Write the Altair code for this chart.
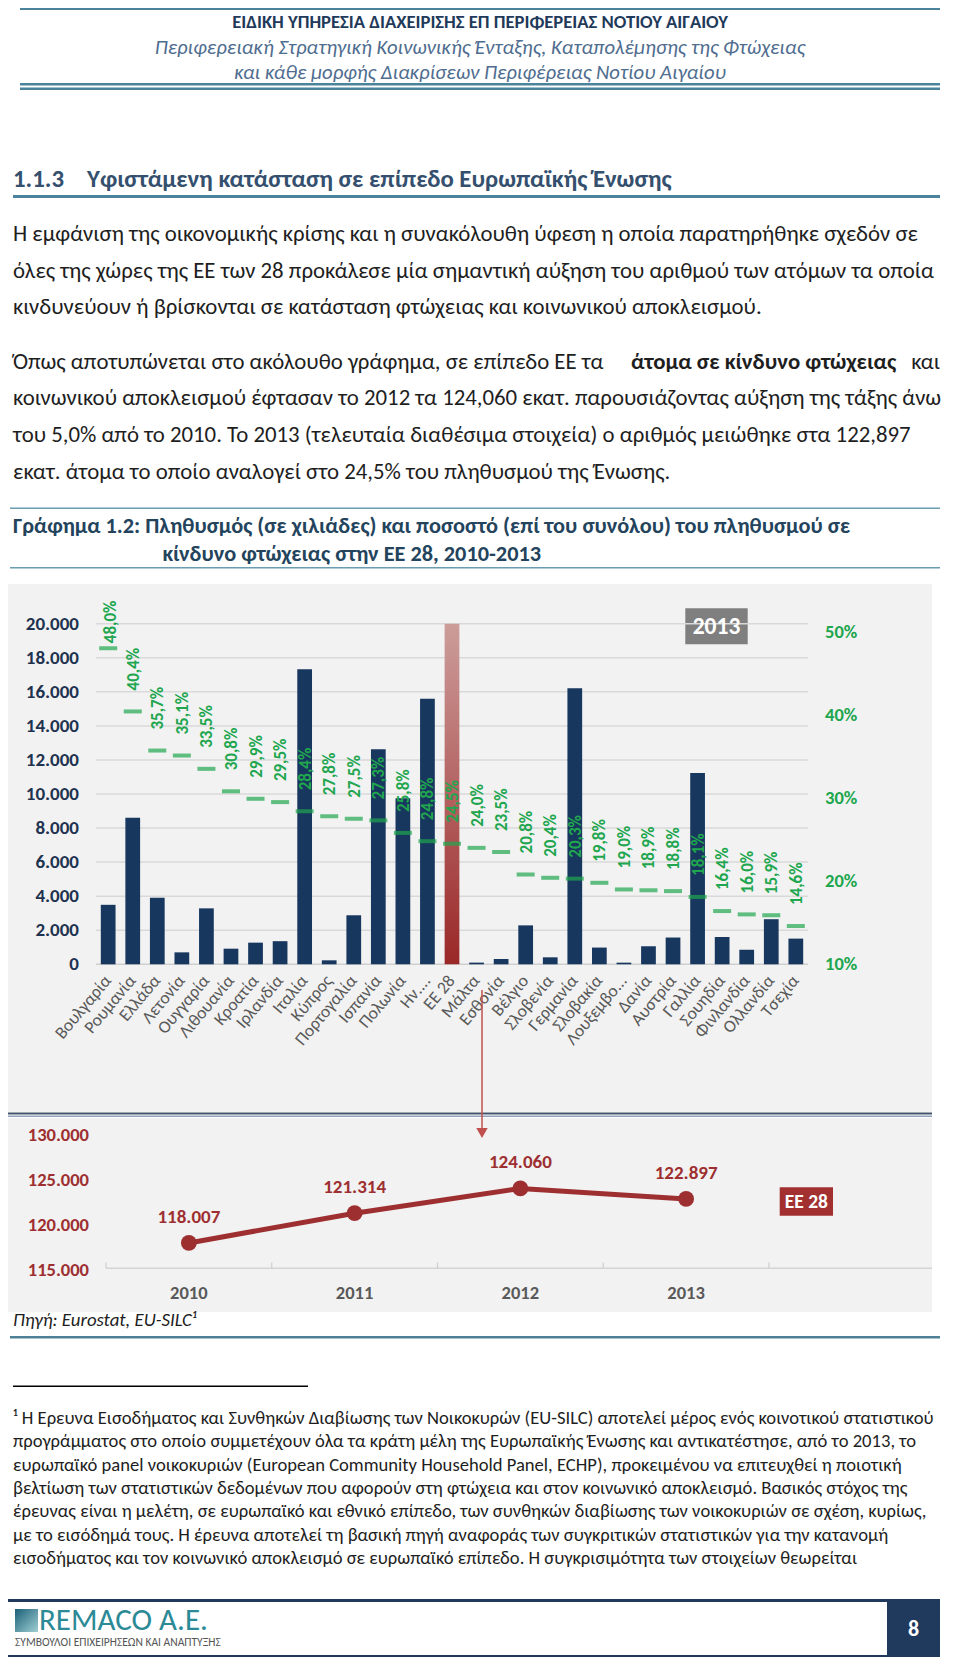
import altair as alt
import pandas as pd

# ---------------- data ----------------
countries = ["Βουλγαρία", "Ρουμανία", "Ελλάδα", "Λετονία", "Ουγγαρία", "Λιθουανία",
             "Κροατία", "Ιρλανδία", "Ιταλία", "Κύπρος", "Πορτογαλία", "Ισπανία",
             "Πολωνία", "Ην....", "ΕΕ 28", "Μάλτα", "Εσθονία", "Βέλγιο", "Σλοβενία",
             "Γερμανία", "Σλοβακία", "Λουξεμβο...", "Δανία", "Αυστρία", "Γαλλία",
             "Σουηδία", "Φινλανδία", "Ολλανδία", "Τσεχία"]
people_2013 = [3493, 8601, 3904, 702, 3285, 917, 1271, 1358, 17326, 234, 2879, 12630,
               9748, 15586, 122897, 99, 313, 2286, 410, 16212, 983, 96, 1059, 1572,
               11229, 1602, 854, 2648, 1508]
pct_2013 = [48.0, 40.4, 35.7, 35.1, 33.5, 30.8, 29.9, 29.5, 28.4, 27.8, 27.5, 27.3,
            25.8, 24.8, 24.5, 24.0, 23.5, 20.8, 20.4, 20.3, 19.8, 19.0, 18.9, 18.8,
            18.1, 16.4, 16.0, 15.9, 14.6]
left_ticks = [0, 2000, 4000, 6000, 8000, 10000, 12000, 14000, 16000, 18000, 20000]
right_ticks = [0.10, 0.20, 0.30, 0.40, 0.50]

years = ["2010", "2011", "2012", "2013"]
eu_total = [118007, 121314, 124060, 122897]
line_ticks = [115000, 120000, 125000, 130000]

# ---------------- helpers ----------------
FONT = "Carlito, Lato, sans-serif"
NAVY = "#17375e"
GREEN = "#20a64e"
RED = "#9e2f31"
GREY = "#595959"
TEAL = "#4b839c"


def P(v):
    return v - 8  # page pixel -> chart pixel


def dot(n):
    return f"{n:,}".replace(",", ".")


bars = pd.DataFrame({
    "country": countries,
    "people": people_2013,
    "pct": [p / 100 for p in pct_2013],
    "plabel": [f"{p:.1f}".replace(".", ",") + "%" for p in pct_2013],
})
line_df = pd.DataFrame({"year": years, "total": eu_total,
                        "lab": [dot(v) for v in eu_total]})
one = pd.DataFrame({"a": [0]})

xb = alt.Scale(domain=countries, range=[P(95.9), P(808.1)], paddingInner=0.4, paddingOuter=0.2)
yb = alt.Scale(domain=[0, 20000], range=[P(964.3), P(623.7)], clamp=True)
yp = alt.Scale(domain=[0.10, 0.5095], range=[P(964.3), P(623.7)])
xl = alt.Scale(domain=years + [" "], range=[P(106), P(934.7)], paddingInner=0, paddingOuter=0)
yl = alt.Scale(domain=[115000, 130000], range=[P(1270), P(1135)])


def X(f, s):
    return alt.X(f, scale=s, axis=None)


def Y(f, s):
    return alt.Y(f, scale=s, axis=None)


def rects(rows):
    df = pd.DataFrame(rows, columns=["x", "y", "x2", "y2", "c"])
    for k in ["x", "y", "x2", "y2"]:
        df[k] = df[k] - 8
    return alt.Chart(df).mark_rect().encode(
        x=X("x:Q", None), x2="x2:Q", y=Y("y:Q", None), y2="y2:Q",
        color=alt.Color("c:N", scale=None, legend=None))


def texts(rows, size, color, weight="normal", style="normal", align="left"):
    df = pd.DataFrame(rows, columns=["x", "y", "t"])
    df["x"] = df["x"] - 8
    df["y"] = df["y"] - 8
    return alt.Chart(df).mark_text(
        align=align, baseline="middle", fontSize=size, fontWeight=weight,
        fontStyle=style, color=color, font=FONT).encode(
        x=X("x:Q", None), y=Y("y:Q", None), text="t:N")


layers = []

# ---------------- decorations ----------------
layers.append(rects([
    (20, 7, 940, 10, TEAL),
    (20, 83, 940, 85.5, TEAL),
    (20, 87.5, 940, 90, TEAL),
    (13, 195, 940, 198, TEAL),
    (10, 507.5, 940, 509, "#6a9db0"),
    (10, 567, 940, 568.5, "#6a9db0"),
    (2, 584, 932, 1112, "#f2f2f2"),
    (2, 1112.5, 932, 1114.5, "#44546a"),
    (2, 1115.5, 932, 1117, "#8ea0bb"),
    (2, 1118, 932, 1312, "#f2f2f2"),
    (10, 1336, 940, 1338.5, "#4e8098"),
    (13, 1385.5, 308, 1387, "#000000"),
    (685.3, 608.3, 747.7, 644.3, "#7f7f7f"),
    (779.7, 1187.3, 833, 1215.7, "#a33030"),
    (2, 1599, 940, 1602, "#1f3a5c"),
    (2, 1655, 940, 1658, "#1f3a5c"),
    (1, 1599, 4, 1658, "#1f3a5c"),
    (887, 1599, 940, 1658, "#1f3a5c"),
    (106, 1267.5, 932, 1269, "#d4d4d4"),
]))

# logo icon
logo = pd.DataFrame({"x": [P(15)], "x2": [P(38)], "y": [P(1609)], "y2": [P(1632)]})
layers.append(alt.Chart(logo).mark_rect(color=alt.Gradient(
    gradient="linear", x1=0, y1=0, x2=1, y2=1,
    stops=[alt.GradientStop(color="#1b5f78", offset=0),
           alt.GradientStop(color="#9fd0d3", offset=1)])).encode(
    x=X("x:Q", None), x2="x2:Q", y=Y("y:Q", None), y2="y2:Q"))

# ---------------- bar chart ----------------
layers.append(alt.Chart(pd.DataFrame({"v": left_ticks[1:]})).mark_rule(
    color="#d9d9d9", strokeWidth=1.5).encode(
    y=Y("v:Q", yb), x=alt.value(P(96)), x2=alt.value(P(808))))
layers.append(alt.Chart(pd.DataFrame({"v": [0]})).mark_rule(
    color="#cfcfcf", strokeWidth=1.5).encode(
    y=Y("v:Q", yb), x=alt.value(P(96)), x2=alt.value(P(808))))

layers.append(alt.Chart(bars).transform_filter(alt.datum.country == "ΕΕ 28").mark_bar(
    color=alt.Gradient(gradient="linear", x1=0, y1=0, x2=0, y2=1,
                       stops=[alt.GradientStop(color="#cc9d9a", offset=0),
                              alt.GradientStop(color="#9a2828", offset=1)])).encode(
    x=X("country:N", xb), y=Y("people:Q", yb)))

layers.append(alt.Chart(bars).transform_filter(alt.datum.country != "ΕΕ 28").mark_bar(
    color=NAVY).encode(x=X("country:N", xb), y=Y("people:Q", yb)))

layers.append(alt.Chart(bars).mark_tick(
    orient="horizontal", size=18, thickness=4, color=GREEN).encode(
    x=X("country:N", xb), y=Y("pct:Q", yp)))

layers.append(alt.Chart(bars).transform_filter(alt.datum.country != "Βουλγαρία").mark_text(
    angle=270, align="left", baseline="middle", dx=21, dy=1, fontSize=17,
    fontWeight="bold", color=GREEN, font=FONT).encode(
    x=X("country:N", xb), y=Y("pct:Q", yp), text="plabel:N"))
layers.append(alt.Chart(bars).transform_filter(alt.datum.country == "Βουλγαρία").mark_text(
    angle=270, align="left", baseline="middle", dx=5, dy=3, fontSize=17,
    fontWeight="bold", color=GREEN, font=FONT).encode(
    x=X("country:N", xb), y=Y("pct:Q", yp), text="plabel:N"))

layers.append(alt.Chart(bars).mark_text(
    angle=310, align="right", baseline="middle", fontSize=17.5, color=GREY, font=FONT).encode(
    x=X("country:N", xb), y=alt.value(P(978)), text="country:N"))

layers.append(alt.Chart(pd.DataFrame({"v": left_ticks, "t": [dot(v) for v in left_ticks]})).mark_text(
    align="right", baseline="middle", fontSize=19, fontWeight="bold", color="#1f3350",
    font=FONT).encode(y=Y("v:Q", yb), x=alt.value(P(79)), text="t:N"))

layers.append(alt.Chart(pd.DataFrame({"v": right_ticks,
                                      "t": [f"{round(v * 100)}%" for v in right_ticks]})).mark_text(
    align="left", baseline="middle", fontSize=18.5, fontWeight="bold", color=GREEN,
    font=FONT).encode(y=Y("v:Q", yp), x=alt.value(P(825)), text="t:N"))

# arrow
layers.append(alt.Chart(one).mark_rule(color="#c0504d", strokeWidth=1.5).encode(
    x=alt.value(P(482)), y=alt.value(P(990)), y2=alt.value(P(1130))))
layers.append(alt.Chart(one).mark_point(shape="triangle-down", filled=True, size=130,
                                        color="#c0504d", opacity=1).encode(
    x=alt.value(P(482)), y=alt.value(P(1133))))

# ---------------- line chart ----------------
layers.append(alt.Chart(pd.DataFrame({"year": years + [" "]})).mark_rule(
    color="#cfcfcf", strokeWidth=1.2).encode(
    x=alt.X("year:N", scale=xl, axis=None, bandPosition=0),
    y=alt.value(P(1262.5)), y2=alt.value(P(1268))))
layers.append(alt.Chart(line_df).mark_line(color=RED, strokeWidth=5).encode(
    x=X("year:N", xl), y=Y("total:Q", yl)))
layers.append(alt.Chart(line_df).mark_circle(color=RED, size=250, opacity=1).encode(
    x=X("year:N", xl), y=Y("total:Q", yl)))
layers.append(alt.Chart(line_df).mark_text(
    dy=-26, fontSize=19, fontWeight="bold", color=RED, font=FONT).encode(
    x=X("year:N", xl), y=Y("total:Q", yl), text="lab:N"))
layers.append(alt.Chart(line_df).mark_text(
    fontSize=18.5, fontWeight="bold", color=GREY, font=FONT).encode(
    x=X("year:N", xl), y=alt.value(P(1292.7)), text="year:N"))
layers.append(alt.Chart(pd.DataFrame({"v": line_ticks, "t": [dot(v) for v in line_ticks]})).mark_text(
    align="right", baseline="middle", fontSize=18.5, fontWeight="bold", color=RED,
    font=FONT).encode(y=Y("v:Q", yl), x=alt.value(P(89)), text="t:N"))

# ---------------- page text ----------------
BODY = "#1e1e1e"
BS = 22.8
layers.append(texts([(480, 22, "ΕΙΔΙΚΗ ΥΠΗΡΕΣΙΑ ΔΙΑΧΕΙΡΙΣΗΣ ΕΠ ΠΕΡΙΦΕΡΕΙΑΣ ΝΟΤΙΟΥ ΑΙΓΑΙΟΥ")],
                    18.6, "#1f3a5a", weight="bold", align="center"))
layers.append(texts([(480, 48, "Περιφερειακή Στρατηγική Κοινωνικής Ένταξης, Καταπολέμησης της Φτώχειας"),
                     (480, 72.5, "και κάθε μορφής Διακρίσεων Περιφέρειας Νοτίου Αιγαίου")],
                    20.7, "#4f6d8f", style="italic", align="center"))
layers.append(texts([(13, 180, "1.1.3"), (87, 180, "Υφιστάμενη κατάσταση σε επίπεδο Ευρωπαϊκής Ένωσης")],
                    24.8, "#34506e", weight="bold"))
layers.append(texts([
    (13, 234, "Η εμφάνιση της οικονομικής κρίσης και η συνακόλουθη ύφεση η οποία παρατηρήθηκε σχεδόν σε"),
    (13, 270.7, "όλες της χώρες της ΕΕ των 28 προκάλεσε μία σημαντική αύξηση του αριθμού των ατόμων τα οποία"),
    (13, 307.3, "κινδυνεύουν ή βρίσκονται σε κατάσταση φτώχειας και κοινωνικού αποκλεισμού."),
    (13, 361.7, "Όπως αποτυπώνεται στο ακόλουθο γράφημα, σε επίπεδο ΕΕ τα"),
    (13, 398.3, "κοινωνικού αποκλεισμού έφτασαν το 2012 τα 124,060 εκατ. παρουσιάζοντας αύξηση της τάξης άνω"),
    (13, 435, "του 5,0% από το 2010. Το 2013 (τελευταία διαθέσιμα στοιχεία) ο αριθμός μειώθηκε στα 122,897"),
    (13, 471.7, "εκατ. άτομα το οποίο αναλογεί στο 24,5% του πληθυσμού της Ένωσης."),
], BS, BODY))
layers.append(texts([(631, 361.7, "άτομα σε κίνδυνο φτώχειας")], BS, BODY, weight="bold"))
layers.append(texts([(940, 361.7, "και")], BS, BODY, align="right"))
layers.append(texts([
    (13, 526, "Γράφημα 1.2: Πληθυσμός (σε χιλιάδες) και ποσοστό (επί του συνόλου) του πληθυσμού σε"),
    (162.5, 553.5, "κίνδυνο φτώχειας στην ΕΕ 28, 2010-2013"),
], 22.3, "#23445c", weight="bold"))
layers.append(texts([(13, 1320, "Πηγή: Eurostat, EU-SILC¹")], 18.8, BODY, style="italic"))
foot = [
    "¹ Η Έρευνα Εισοδήματος και Συνθηκών Διαβίωσης των Νοικοκυρών (EU-SILC) αποτελεί μέρος ενός κοινοτικού στατιστικού",
    "προγράμματος στο οποίο συμμετέχουν όλα τα κράτη μέλη της Ευρωπαϊκής Ένωσης και αντικατέστησε, από το 2013, το",
    "ευρωπαϊκό panel νοικοκυριών (European Community Household Panel, ECHP), προκειμένου να επιτευχθεί η ποιοτική",
    "βελτίωση των στατιστικών δεδομένων που αφορούν στη φτώχεια και στον κοινωνικό αποκλεισμό. Βασικός στόχος της",
    "έρευνας είναι η μελέτη, σε ευρωπαϊκό και εθνικό επίπεδο, των συνθηκών διαβίωσης των νοικοκυριών σε σχέση, κυρίως,",
    "με το εισόδημά τους. Η έρευνα αποτελεί τη βασική πηγή αναφοράς των συγκριτικών στατιστικών για την κατανομή",
    "εισοδήματος και τον κοινωνικό αποκλεισμό σε ευρωπαϊκό επίπεδο. Η συγκρισιμότητα των στοιχείων θεωρείται",
]
layers.append(texts([(13, 1417.8 + 23.4 * i, s) for i, s in enumerate(foot)], 18.6, BODY))

layers.append(texts([(716.5, 627, "2013")], 23.5, "#ffffff", weight="bold", align="center"))
layers.append(texts([(806.3, 1202, "EE 28")], 19.5, "#ffffff", weight="bold", align="center"))
layers.append(texts([(913.5, 1629, "8")], 22, "#ffffff", weight="bold", align="center"))
layers.append(texts([(39, 1621, "REMACO A.E.")], 31, "#2b8a96"))
layers.append(texts([(15, 1643, "ΣΥΜΒΟΥΛΟΙ ΕΠΙΧΕΙΡΗΣΕΩΝ ΚΑΙ ΑΝΑΠΤΥΞΗΣ")], 11.5, "#555555"))

chart = alt.layer(*layers).resolve_scale(
    x="independent", y="independent", color="independent"
).properties(
    width=944, height=1649, padding=0, autosize="none", background="white"
).configure_view(strokeWidth=0)

chart.save("out.html", embed_options={"renderer": "svg", "actions": False})
